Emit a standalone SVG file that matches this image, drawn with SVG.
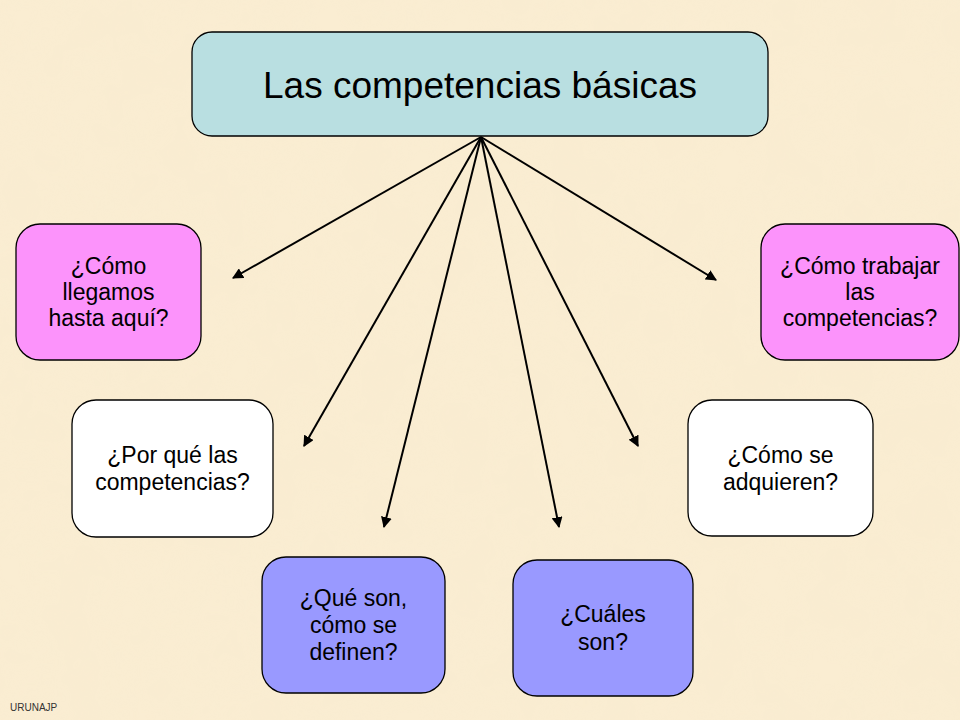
<svg xmlns="http://www.w3.org/2000/svg" width="960" height="720" viewBox="0 0 960 720">
<defs>
<style>
.box{stroke:#000;stroke-width:1.3}
.t{font-family:"Liberation Sans",Arial,sans-serif;font-size:23px;fill:#000;text-anchor:middle}
.title{font-family:"Liberation Sans",Arial,sans-serif;font-size:37px;fill:#000;text-anchor:middle}
.con{stroke:#000;stroke-width:2;fill:none;marker-end:url(#ah)}
</style>
<marker id="ah" viewBox="0 0 10 10" refX="9" refY="5" markerWidth="5.5" markerHeight="5.5" orient="auto" markerUnits="strokeWidth">
<path d="M0,0 L10,5 L0,10 z" fill="#000"/>
</marker>
<filter id="tex" x="0" y="0" width="100%" height="100%">
<feTurbulence type="fractalNoise" baseFrequency="0.02" numOctaves="3" seed="4"/>
<feColorMatrix values="0 0 0 0 0.93  0 0 0 0 0.82  0 0 0 0 0.62  0 0 0 0.9 -0.2"/>
</filter>
</defs>
<rect width="960" height="720" fill="#FAEDD2"/>
<rect width="960" height="720" filter="url(#tex)" opacity="0.5"/>
<g id="connectors">
<line class="con" x1="481" y1="137" x2="233" y2="278"/>
<line class="con" x1="481" y1="137" x2="304" y2="446"/>
<line class="con" x1="481" y1="137" x2="384" y2="527"/>
<line class="con" x1="481" y1="137" x2="559" y2="527"/>
<line class="con" x1="481" y1="137" x2="638" y2="446"/>
<line class="con" x1="481" y1="137" x2="716" y2="280"/>
</g>
<g id="n-title">
<rect class="box" x="192" y="32" width="576" height="104" rx="20" fill="#B9DFE1"/>
<text class="title" x="480" y="98">Las competencias básicas</text>
</g>
<g id="n-llegamos">
<rect class="box" x="16" y="224" width="185" height="136" rx="24" fill="#FC93FB"/>
<text class="t" x="108.5" y="274">¿Cómo</text>
<text class="t" x="108.5" y="300">llegamos</text>
<text class="t" x="108.5" y="326">hasta aquí?</text>
</g>
<g id="n-porque">
<rect class="box" x="72" y="400" width="201" height="137" rx="24" fill="#FFFFFF"/>
<text class="t" x="172.5" y="463">¿Por qué las</text>
<text class="t" x="172.5" y="490">competencias?</text>
</g>
<g id="n-queson">
<rect class="box" x="262" y="557" width="183" height="136" rx="24" fill="#9999FF"/>
<text class="t" x="353.5" y="606">¿Qué son,</text>
<text class="t" x="353.5" y="633">cómo se</text>
<text class="t" x="353.5" y="660">definen?</text>
</g>
<g id="n-cuales">
<rect class="box" x="513" y="560" width="180" height="136" rx="24" fill="#9999FF"/>
<text class="t" x="603" y="622">¿Cuáles</text>
<text class="t" x="603" y="650">son?</text>
</g>
<g id="n-adquieren">
<rect class="box" x="688" y="400" width="185" height="136" rx="24" fill="#FFFFFF"/>
<text class="t" x="780.5" y="463">¿Cómo se</text>
<text class="t" x="780.5" y="490">adquieren?</text>
</g>
<g id="n-trabajar">
<rect class="box" x="761" y="224" width="198" height="136" rx="24" fill="#FC93FB"/>
<text class="t" x="860" y="274">¿Cómo trabajar</text>
<text class="t" x="860" y="300">las</text>
<text class="t" x="860" y="326">competencias?</text>
</g>
<text x="10" y="711" font-family="Liberation Sans,Arial,sans-serif" font-size="10" fill="#333">URUNAJP</text>
</svg>
